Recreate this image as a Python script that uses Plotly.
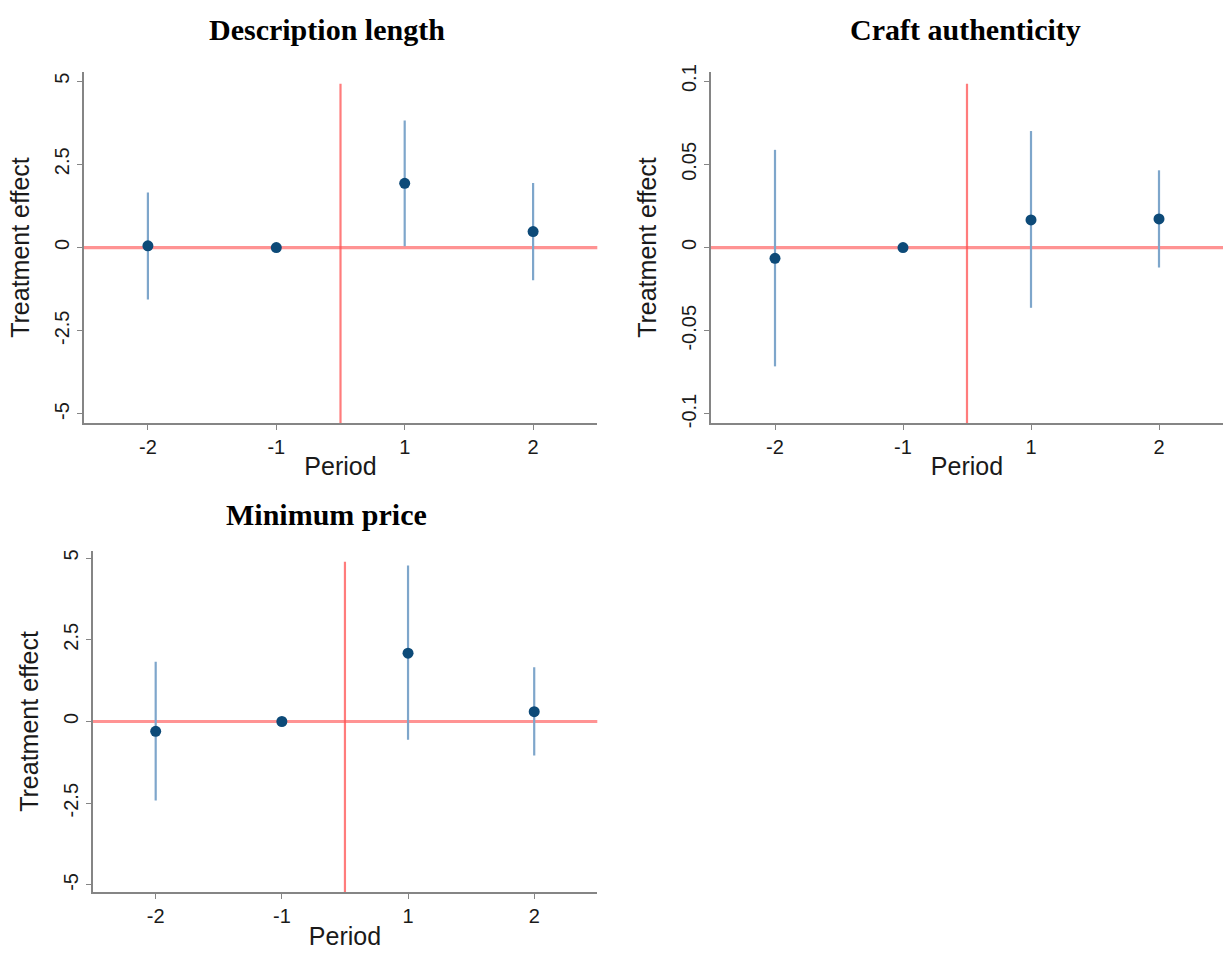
import plotly.graph_objects as go

# Event-study estimates by period (period -1 is the omitted reference)
periods = ["-2", "-1", "1", "2"]
period_pos = [1, 2, 3, 4]

desc_est = [0.05, 0.0, 1.93, 0.48]
desc_lo = [-1.56, None, 0.04, -0.98]
desc_hi = [1.65, None, 3.82, 1.94]

craft_est = [-0.0065, 0.0, 0.0166, 0.0172]
craft_lo = [-0.0714, None, -0.0362, -0.012]
craft_hi = [0.0587, None, 0.070, 0.0464]

price_est = [-0.30, 0.0, 2.09, 0.30]
price_lo = [-2.42, None, -0.56, -1.04]
price_hi = [1.83, None, 4.77, 1.66]

panel_titles = ["Description length", "Craft authenticity", "Minimum price"]
y_ticks = [[-5, -2.5, 0, 2.5, 5], [-0.1, -0.05, 0, 0.05, 0.1], [-5, -2.5, 0, 2.5, 5]]
y_ticktext = [["-5", "-2.5", "0", "2.5", "5"],
              ["-0.1", "-0.05", "0", "0.05", "0.1"],
              ["-5", "-2.5", "0", "2.5", "5"]]
y_ranges = [[-5.27, 5.27], [-0.1054, 0.1054], [-5.23, 5.23]]

W, H = 1223, 954
# plot areas in pixels: (left, right, top, bottom)
boxes = [(83.7, 597.3, 65, 420.7), (711, 1223, 65, 420.7), (92.6, 597.3, 550, 896.7)]
# title centres in pixels
title_pos = [(327, 22), (965, 22), (327, 513)]

MARKER = "#0d4a78"
CI = "#7ea6cb"
REF_H = "rgba(255,80,80,0.62)"
REF_V = "rgba(255,80,80,0.75)"
AXIS = "#858585"
SANS = "Liberation Sans, Arial, sans-serif"
SERIF = "Liberation Serif, Times New Roman, serif"

series = [(desc_est, desc_lo, desc_hi), (craft_est, craft_lo, craft_hi), (price_est, price_lo, price_hi)]

fig = go.Figure()
layout = dict(width=W, height=H, margin=dict(l=0, r=0, t=0, b=0),
              paper_bgcolor="white", plot_bgcolor="white", showlegend=False)
shapes = []
annotations = []

for i, ((est, lo, hi), box) in enumerate(zip(series, boxes)):
    n = "" if i == 0 else str(i + 1)
    xa, ya = "x" + n, "y" + n
    plus = [None if h is None else h - e for e, h in zip(est, hi)]
    minus = [None if l is None else e - l for e, l in zip(est, lo)]
    fig.add_trace(go.Scatter(
        x=period_pos, y=est, mode="markers", xaxis=xa, yaxis=ya,
        marker=dict(color=MARKER, size=11),
        error_y=dict(type="data", symmetric=False, array=plus, arrayminus=minus,
                     width=0, thickness=2.2, color=CI),
    ))
    l, r, t, b = box
    axis_common = dict(showline=True, linecolor=AXIS, linewidth=1.6, ticks="outside",
                       ticklen=5, tickcolor=AXIS, tickwidth=1.4, showgrid=False,
                       zeroline=False, tickfont=dict(family=SANS, size=20, color="#1a1a1a"))
    layout["xaxis" + n] = dict(axis_common, domain=[l / W, r / W], anchor=ya,
                               range=[0.5, 4.5], tickvals=period_pos, ticktext=periods,
                               title=dict(text="Period", font=dict(family=SANS, size=25, color="#1a1a1a"),
                                          standoff=1))
    layout["yaxis" + n] = dict(axis_common, domain=[1 - b / H, 1 - t / H], anchor=xa,
                               range=y_ranges[i], tickvals=y_ticks[i], ticktext=y_ticktext[i],
                               tickangle=-90,
                               title=dict(text="Treatment effect", font=dict(family=SANS, size=25, color="#1a1a1a"),
                                          standoff=14))
    # reference lines at zero effect and at treatment onset
    shapes.append(dict(type="line", xref=xa + " domain", yref=ya, x0=0, x1=1, y0=0, y1=0,
                       line=dict(color=REF_H, width=3.2), layer="below"))
    shapes.append(dict(type="line", xref=xa, yref=ya + " domain", x0=2.5, x1=2.5, y0=0, y1=0.967,
                       line=dict(color=REF_V, width=2.2), layer="below"))

    tx, ty = title_pos[i]
    annotations.append(dict(text="<b>" + panel_titles[i] + "</b>", x=tx / W, y=1 - ty / H,
                            xref="paper", yref="paper", showarrow=False,
                            font=dict(family=SERIF, size=30, color="black"),
                            xanchor="center", yanchor="middle"))

layout["shapes"] = shapes
layout["annotations"] = annotations
fig.update_layout(**layout)
fig.write_html("out.html")
